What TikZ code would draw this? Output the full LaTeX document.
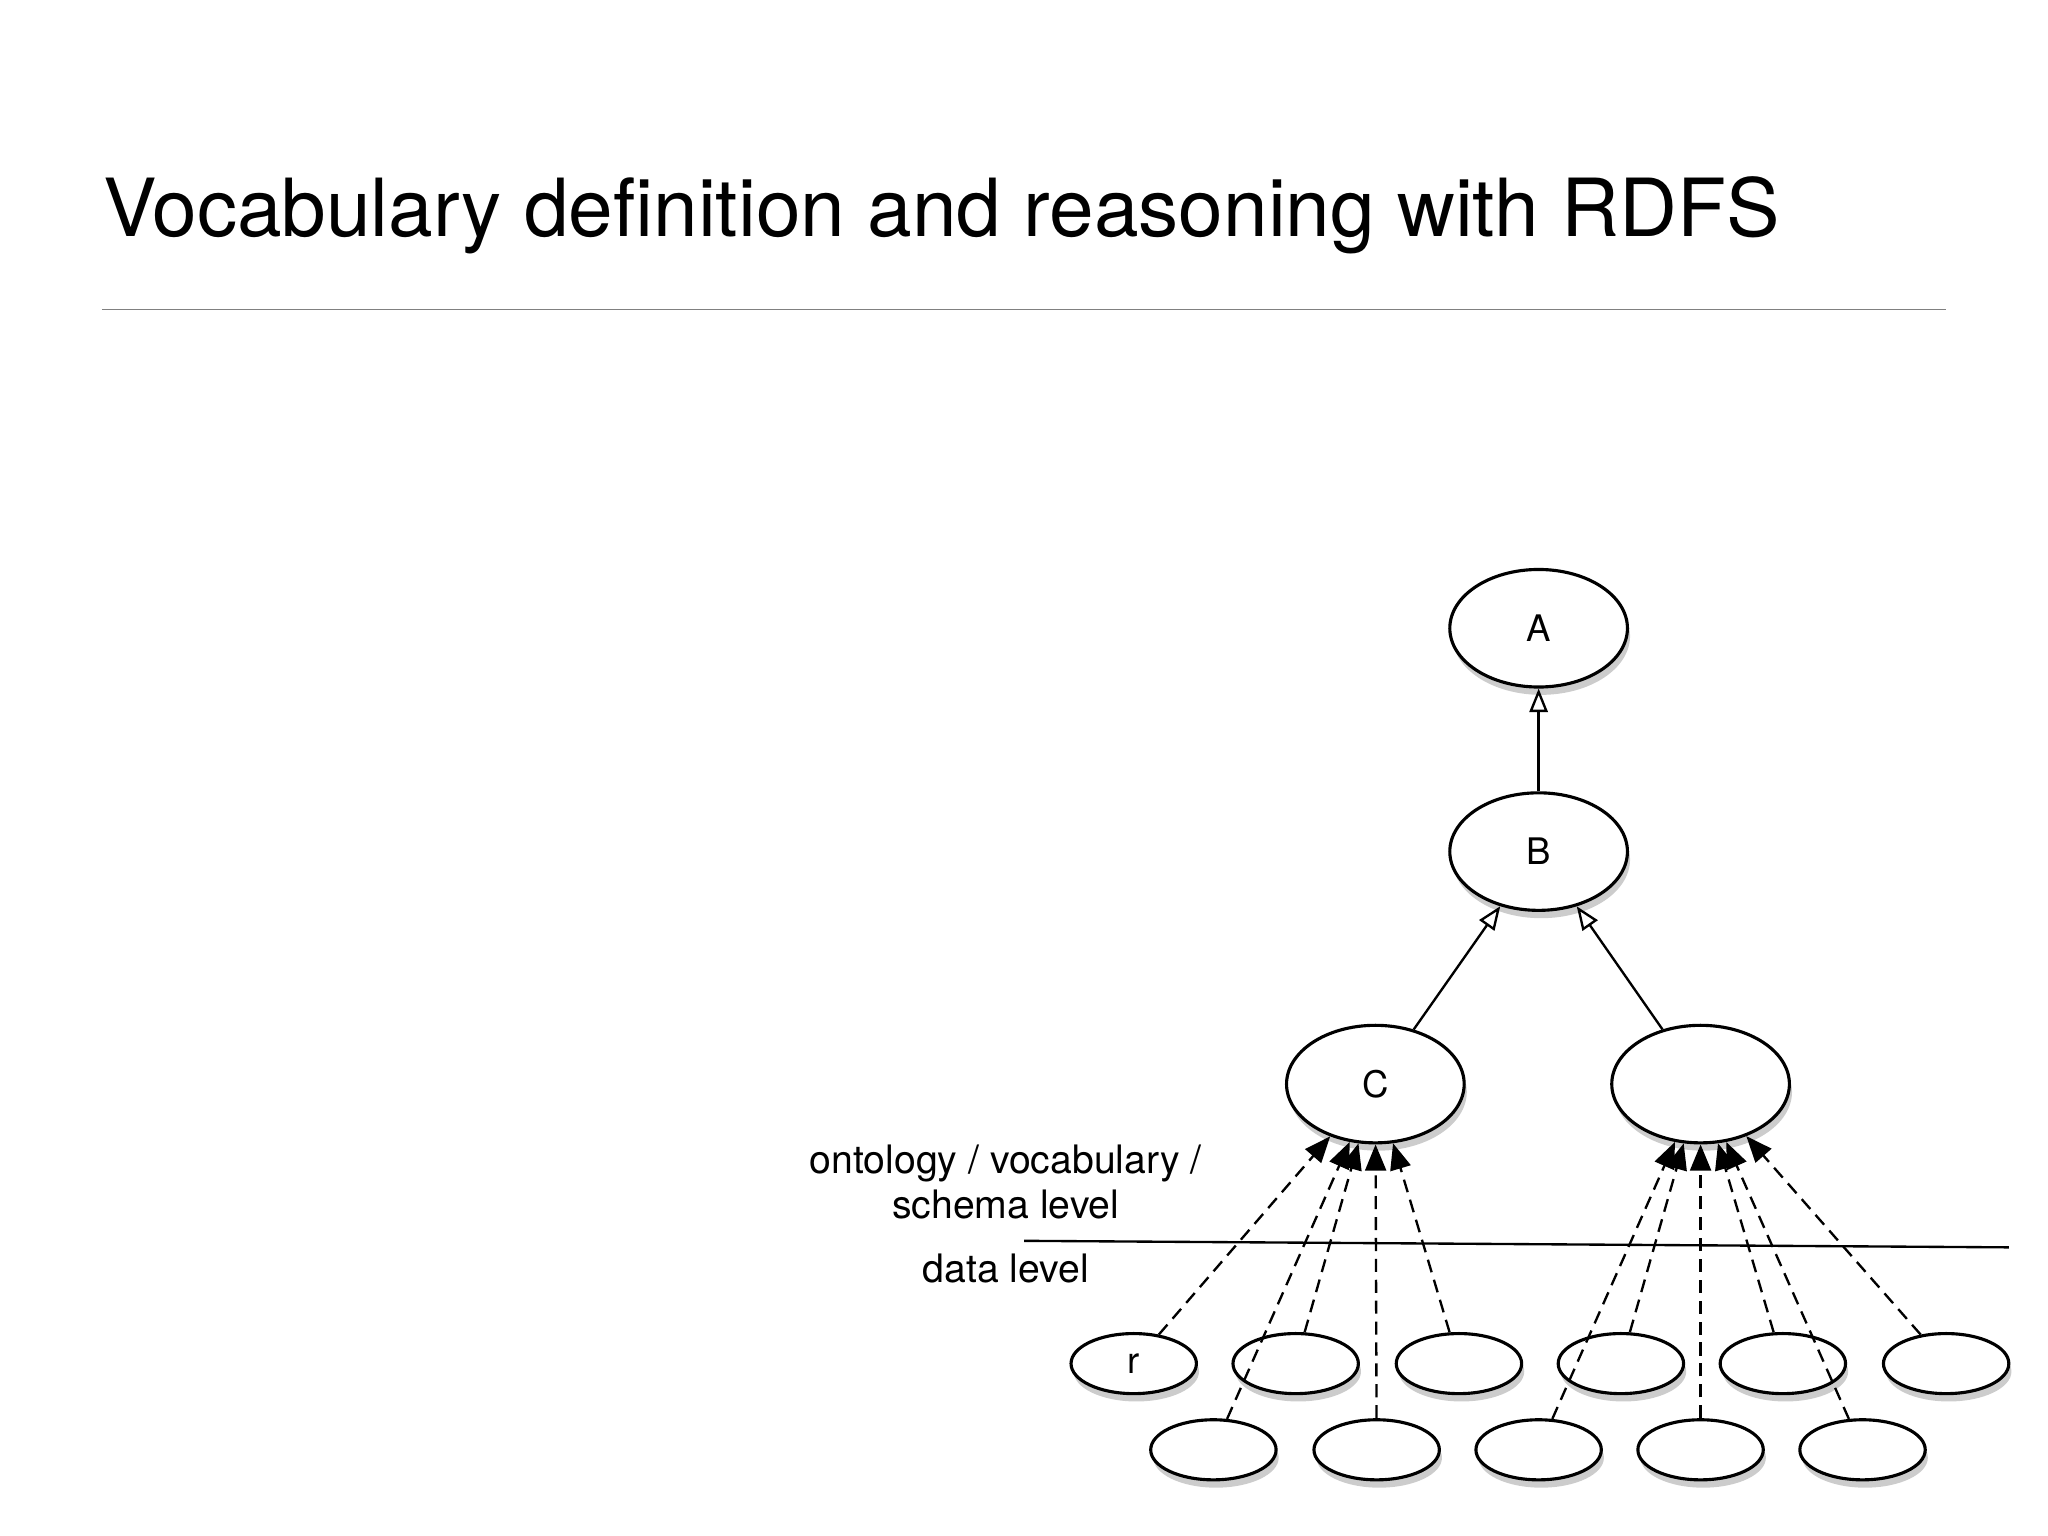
\documentclass[tikz,border=0pt]{standalone}
\usepackage{fontspec}
\setmainfont{TeX Gyre Heros}
\usetikzlibrary{shadows,arrows.meta,shapes.geometric}
\begin{document}
\begin{tikzpicture}[x=0.5pt,y=-0.5pt,
  cls/.style={ellipse,draw,line width=1.2pt,fill=white,minimum width=68pt,minimum height=45pt,inner sep=0pt,font=\fontsize{14}{16}\selectfont,drop shadow={shadow xshift=1pt,shadow yshift=-3pt,opacity=0.4}},
  inst/.style={ellipse,draw,line width=1.2pt,fill=white,minimum width=48pt,minimum height=23pt,inner sep=0pt,font=\fontsize{14}{16}\selectfont,drop shadow={shadow xshift=1pt,shadow yshift=-3pt,opacity=0.4}},
  sub/.style={-{Triangle[open,length=9pt,width=7pt]},line width=0.9pt},
  typ/.style={-{Triangle[length=10pt,width=8pt]},dash pattern=on 5pt off 3pt,line width=0.9pt}]
\useasboundingbox (0,0) rectangle (1568,1176);
% title
\node[anchor=west,font=\fontsize{30.7}{36}\selectfont] (title) at (72,165) {Vocabulary definition and reasoning with RDFS};
\draw[gray,line width=0.6pt] (78,237) -- (1490,237);
% classes
\node[cls] (a) at (1178,481) {A};
\node[cls] (b) at (1178,652) {B};
\node[cls] (c) at (1053,830) {C};
\node[cls] (d) at (1302,830) {};
\draw[sub] (b) -- (a);
\draw[sub] (c) -- (b);
\draw[sub] (d) -- (b);
% levels
\coordinate (sl) at (784,950);
\coordinate (sr) at (1538,955);
\draw[line width=0.9pt] (sl) -- (sr);
\node[align=center,font=\fontsize{15}{17.5}\selectfont] (onto) at (770,905) {ontology / vocabulary /\\schema level};
\node[font=\fontsize{15}{17.5}\selectfont] (data) at (770,971) {data level};
% instances
\node[inst] (r) at (868,1044) {r};
\foreach \n/\x in {i2/992,i3/1117,i4/1241,i5/1365,i6/1490}
  \node[inst] (\n) at (\x,1044) {};
\foreach \n/\x in {j1/929,j2/1054,j3/1178,j4/1302,j5/1426}
  \node[inst] (\n) at (\x,1110) {};
\foreach \n in {r,i2,i3,j1,j2}
  \draw[typ] (\n) -- (c);
\foreach \n in {i4,i5,i6,j3,j4,j5}
  \draw[typ] (\n) -- (d);
\end{tikzpicture}
\end{document}
